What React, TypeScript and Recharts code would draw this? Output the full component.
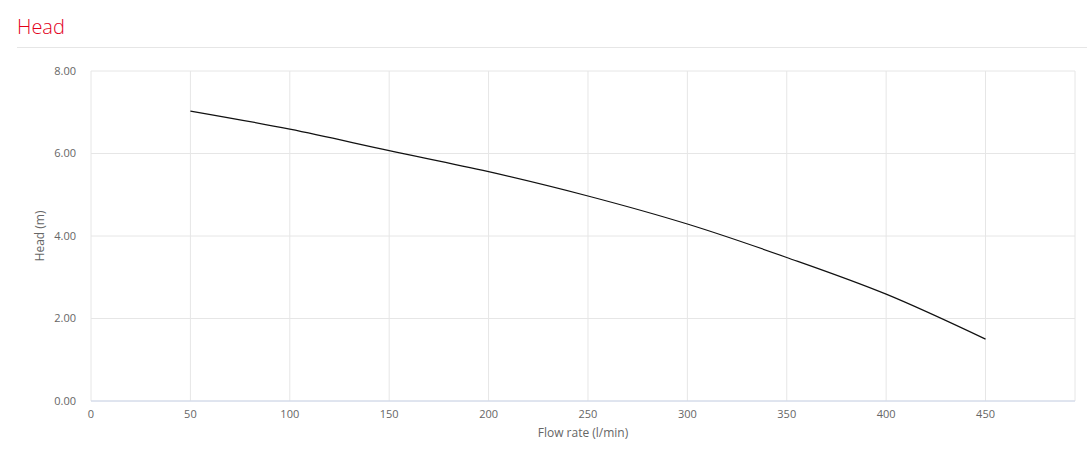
import { LineChart, Line, XAxis, YAxis, CartesianGrid } from "recharts"

const flowRates = [50, 100, 150, 200, 250, 300, 350, 400, 450]
const heads = [7.03, 6.59, 6.07, 5.56, 4.97, 4.29, 3.48, 2.59, 1.5]
const xTicks = [0, 50, 100, 150, 200, 250, 300, 350, 400, 450]
const yTicks = [0, 2, 4, 6, 8]

const data = flowRates.map((q, i) => ({ q, head: heads[i] }))

const FONT = "'Open Sans', sans-serif"

export default function App() {
  return (
    <div
      style={{
        position: "absolute",
        left: 0,
        top: 0,
        width: 1087,
        height: 465,
        background: "#fff",
        fontFamily: FONT,
      }}
    >
      <div
        style={{
          position: "absolute",
          left: 17,
          top: 12,
          fontSize: 20,
          fontWeight: 300,
          color: "#e2001a",
          lineHeight: "30px",
        }}
      >
        Head
      </div>
      <div
        style={{
          position: "absolute",
          left: 17,
          right: 0,
          top: 47,
          borderTop: "1px solid #e6e6e6",
        }}
      />
      <div style={{ position: "absolute", left: 0, top: 48 }}>
        <LineChart
          width={1087}
          height={417}
          data={data}
          margin={{ top: 23, right: 12, bottom: 24, left: 31 }}
        >
          <CartesianGrid stroke="#e6e6e6" />
          <XAxis
            dataKey="q"
            type="number"
            domain={[0, 495]}
            ticks={xTicks}
            height={40}
            tickLine={false}
            tickSize={0}
            tickMargin={9}
            axisLine={{ stroke: "#ccd6eb" }}
            tick={{ fill: "#666", fontSize: 11, fontFamily: FONT }}
            label={{
              value: "Flow rate (l/min)",
              position: "insideBottom",
              offset: 4,
              fill: "#666",
              fontSize: 12,
              fontFamily: FONT,
            }}
          />
          <YAxis
            type="number"
            domain={[0, 8]}
            ticks={yTicks}
            width={60}
            tickLine={false}
            tickSize={0}
            tickMargin={15}
            axisLine={false}
            tickFormatter={(v) => Number(v).toFixed(2)}
            tick={{ fill: "#666", fontSize: 11, fontFamily: FONT }}
            label={{
              value: "Head (m)",
              angle: -90,
              position: "insideLeft",
              offset: 9,
              fill: "#666",
              fontSize: 12,
              fontFamily: FONT,
              style: { textAnchor: "middle" },
            }}
          />
          <Line
            type="monotone"
            dataKey="head"
            stroke="#111"
            strokeWidth={1.2}
            dot={false}
            isAnimationActive={false}
          />
        </LineChart>
      </div>
    </div>
  )
}
